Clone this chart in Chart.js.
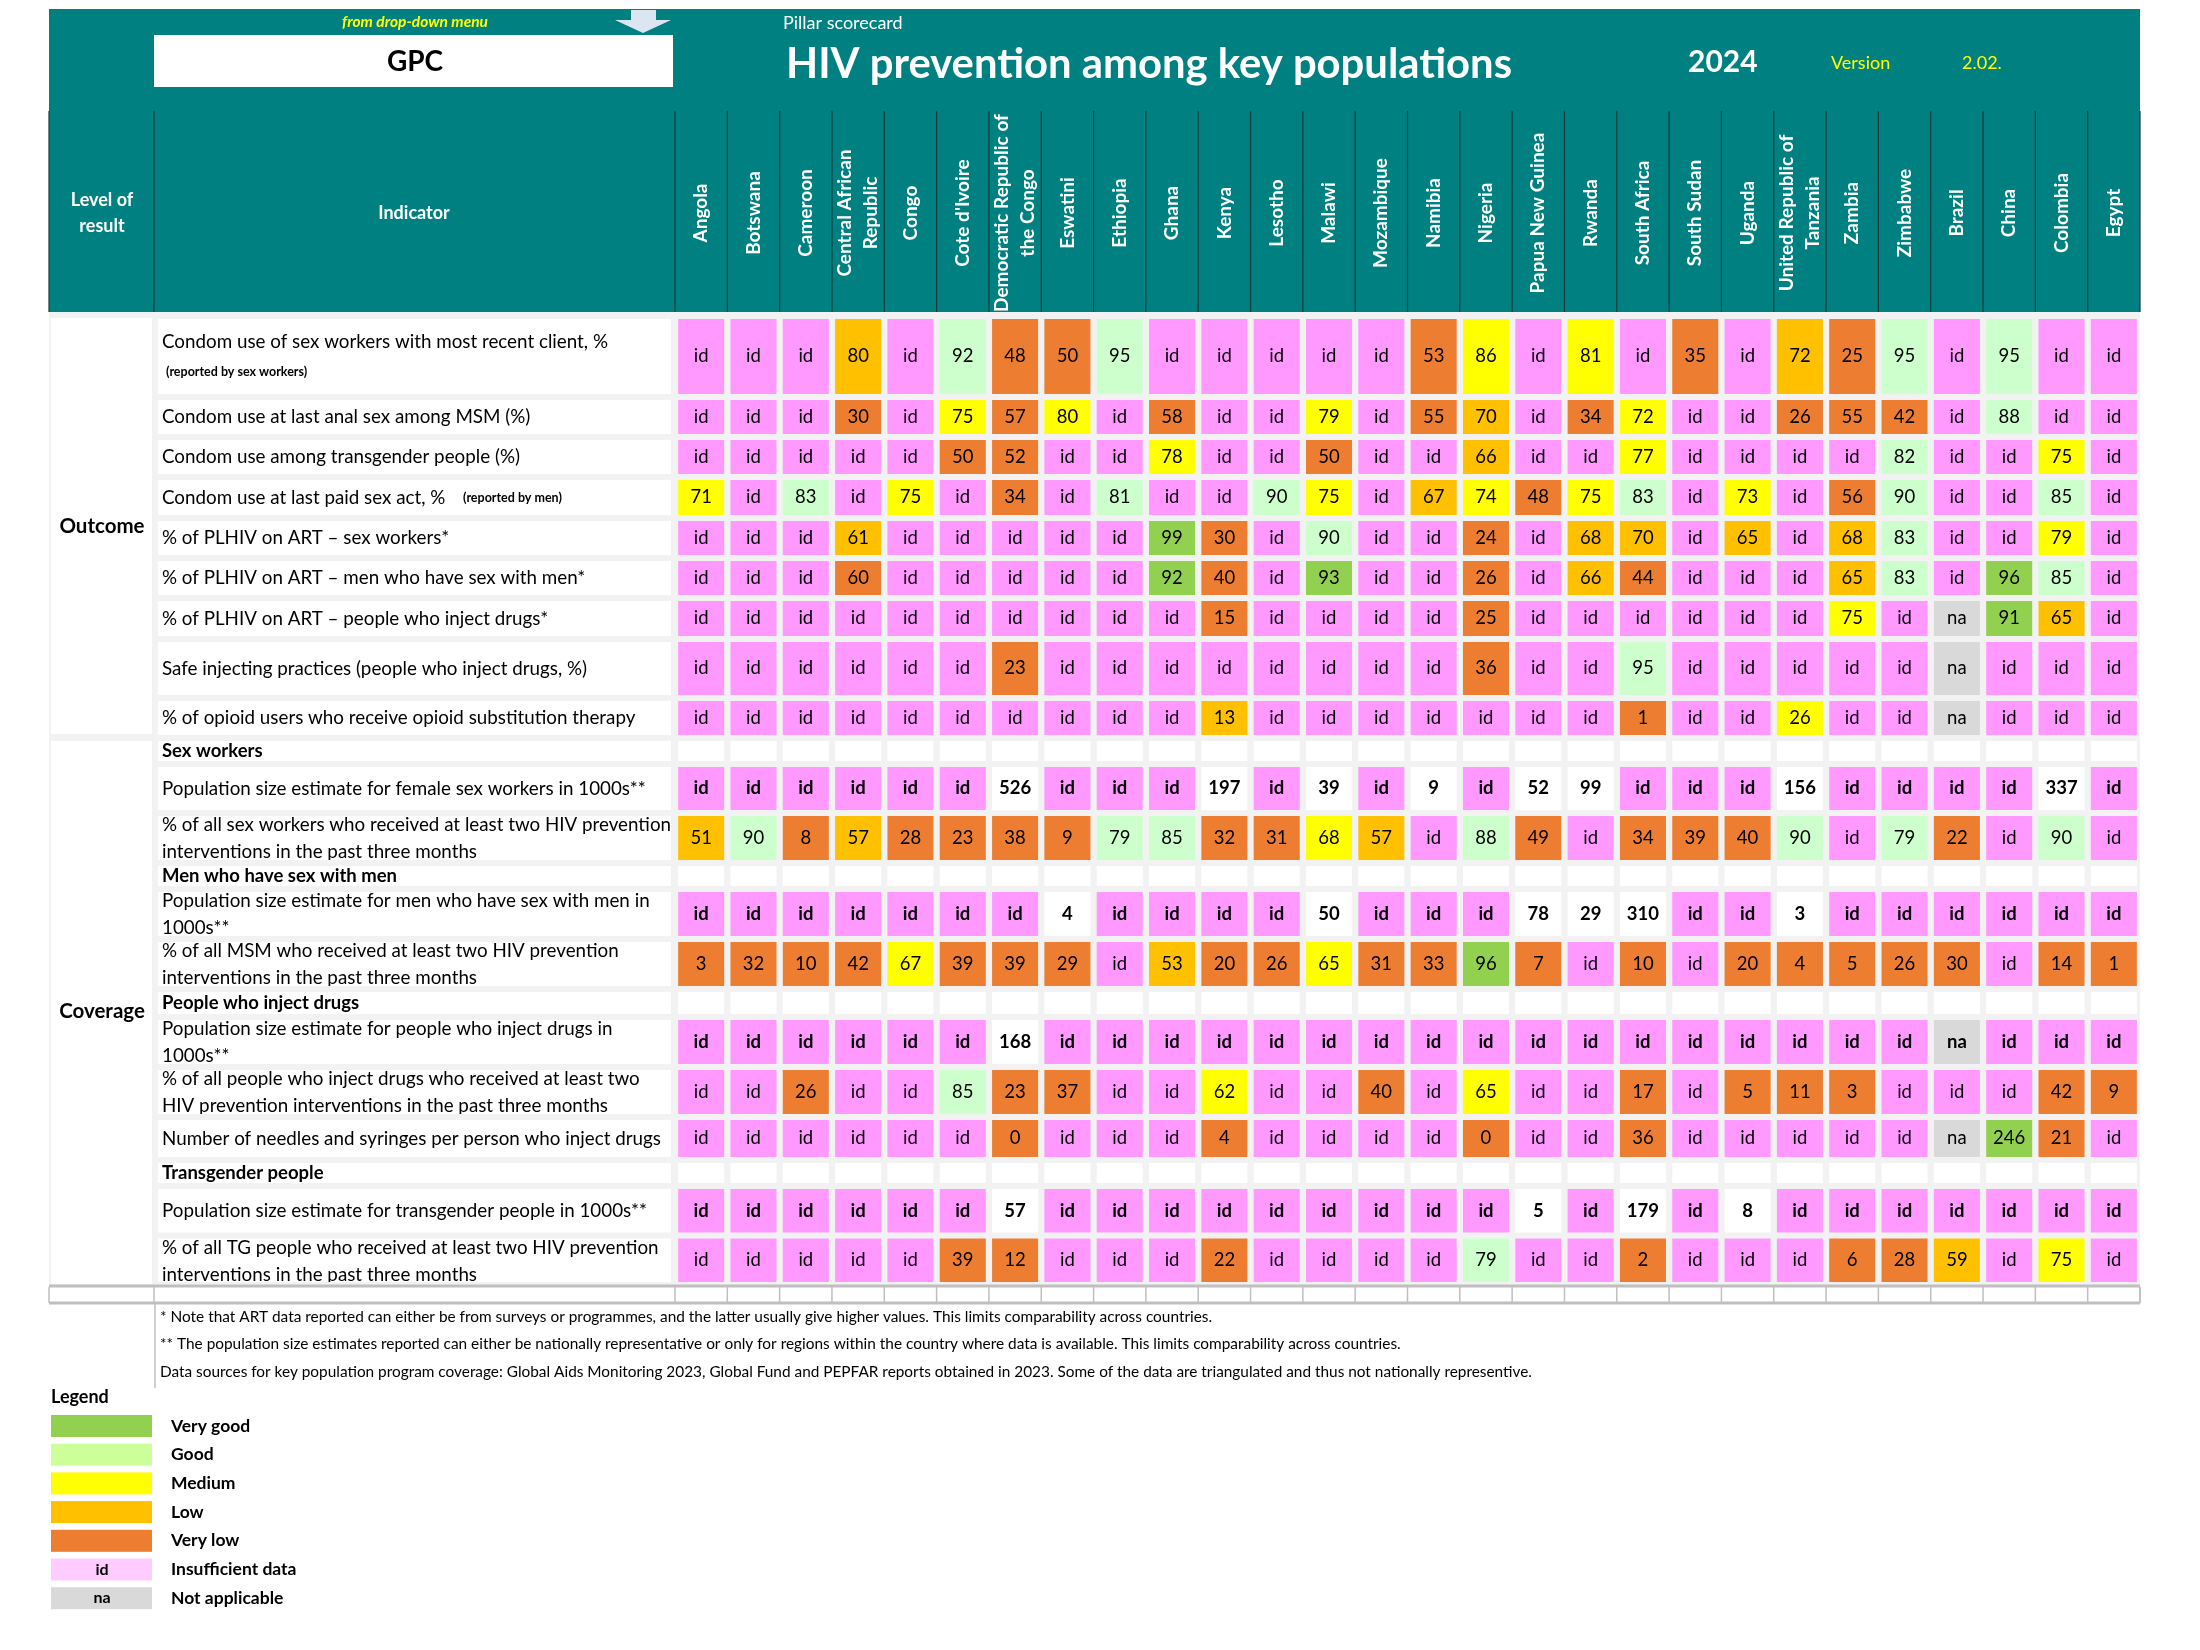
<!DOCTYPE html>
<html>
<head>
<meta charset="utf-8">
<script src="https://cdn.jsdelivr.net/npm/chart.js@4.4.1/dist/chart.umd.min.js"></script>
<style>
  html, body { margin: 0; padding: 0; background: #fff; }
  #wrap { width: 2200px; height: 1650px; }
</style>
</head>
<body>
<div id="wrap"><canvas id="scorecard" width="2200" height="1650"></canvas></div>
<script>
const countries = [
  "Angola", "Botswana", "Cameroon", ["Central African", "Republic"], "Congo", "Cote d'Ivoire",
  ["Democratic Republic of", "the Congo"], "Eswatini", "Ethiopia", "Ghana", "Kenya", "Lesotho",
  "Malawi", "Mozambique", "Namibia", "Nigeria", "Papua New Guinea", "Rwanda", "South Africa",
  "South Sudan", "Uganda", ["United Republic of", "Tanzania"], "Zambia", "Zimbabwe", "Brazil",
  "China", "Colombia", "Egypt",
];

// ratings: VG very good, G good, M medium, L low, VL very low, id insufficient data, na not applicable
const condomSexWorkers = ["id","id","id",80,"id",92,48,50,95,"id","id","id","id","id",53,86,"id",81,"id",35,"id",72,25,95,"id",95,"id","id"];
const condomSexWorkersRating = ["id","id","id","L","id","G","VL","VL","G","id","id","id","id","id","VL","M","id","M","id","VL","id","L","VL","G","id","G","id","id"];

const condomMsm = ["id","id","id",30,"id",75,57,80,"id",58,"id","id",79,"id",55,70,"id",34,72,"id","id",26,55,42,"id",88,"id","id"];
const condomMsmRating = ["id","id","id","VL","id","M","VL","M","id","VL","id","id","M","id","VL","L","id","VL","M","id","id","VL","VL","VL","id","G","id","id"];

const condomTg = ["id","id","id","id","id",50,52,"id","id",78,"id","id",50,"id","id",66,"id","id",77,"id","id","id","id",82,"id","id",75,"id"];
const condomTgRating = ["id","id","id","id","id","VL","VL","id","id","M","id","id","VL","id","id","L","id","id","M","id","id","id","id","G","id","id","M","id"];

const condomPaidSex = [71,"id",83,"id",75,"id",34,"id",81,"id","id",90,75,"id",67,74,48,75,83,"id",73,"id",56,90,"id","id",85,"id"];
const condomPaidSexRating = ["M","id","G","id","M","id","VL","id","G","id","id","G","M","id","L","M","VL","M","G","id","M","id","VL","G","id","id","G","id"];

const artSexWorkers = ["id","id","id",61,"id","id","id","id","id",99,30,"id",90,"id","id",24,"id",68,70,"id",65,"id",68,83,"id","id",79,"id"];
const artSexWorkersRating = ["id","id","id","L","id","id","id","id","id","VG","VL","id","G","id","id","VL","id","L","L","id","L","id","L","G","id","id","M","id"];

const artMsm = ["id","id","id",60,"id","id","id","id","id",92,40,"id",93,"id","id",26,"id",66,44,"id","id","id",65,83,"id",96,85,"id"];
const artMsmRating = ["id","id","id","VL","id","id","id","id","id","VG","VL","id","VG","id","id","VL","id","L","VL","id","id","id","L","G","id","VG","G","id"];

const artPwid = ["id","id","id","id","id","id","id","id","id","id",15,"id","id","id","id",25,"id","id","id","id","id","id",75,"id","na",91,65,"id"];
const artPwidRating = ["id","id","id","id","id","id","id","id","id","id","VL","id","id","id","id","VL","id","id","id","id","id","id","M","id","na","VG","L","id"];

const safeInjecting = ["id","id","id","id","id","id",23,"id","id","id","id","id","id","id","id",36,"id","id",95,"id","id","id","id","id","na","id","id","id"];
const safeInjectingRating = ["id","id","id","id","id","id","VL","id","id","id","id","id","id","id","id","VL","id","id","G","id","id","id","id","id","na","id","id","id"];

const ostCoverage = ["id","id","id","id","id","id","id","id","id","id",13,"id","id","id","id","id","id","id",1,"id","id",26,"id","id","na","id","id","id"];
const ostCoverageRating = ["id","id","id","id","id","id","id","id","id","id","L","id","id","id","id","id","id","id","VL","id","id","M","id","id","na","id","id","id"];

const sizeFsw = ["id","id","id","id","id","id",526,"id","id","id",197,"id",39,"id",9,"id",52,99,"id","id","id",156,"id","id","id","id",337,"id"];
const reachedSw = [51,90,8,57,28,23,38,9,79,85,32,31,68,57,"id",88,49,"id",34,39,40,90,"id",79,22,"id",90,"id"];
const reachedSwRating = ["L","G","VL","L","VL","VL","VL","VL","G","G","VL","VL","M","L","id","G","VL","id","VL","VL","VL","G","id","G","VL","id","G","id"];

const sizeMsm = ["id","id","id","id","id","id","id",4,"id","id","id","id",50,"id","id","id",78,29,310,"id","id",3,"id","id","id","id","id","id"];
const reachedMsm = [3,32,10,42,67,39,39,29,"id",53,20,26,65,31,33,96,7,"id",10,"id",20,4,5,26,30,"id",14,1];
const reachedMsmRating = ["VL","VL","VL","VL","M","VL","VL","VL","id","L","VL","VL","M","VL","VL","VG","VL","id","VL","id","VL","VL","VL","VL","VL","id","VL","VL"];

const sizePwid = ["id","id","id","id","id","id",168,"id","id","id","id","id","id","id","id","id","id","id","id","id","id","id","id","id","na","id","id","id"];
const reachedPwid = ["id","id",26,"id","id",85,23,37,"id","id",62,"id","id",40,"id",65,"id","id",17,"id",5,11,3,"id","id","id",42,9];
const reachedPwidRating = ["id","id","VL","id","id","G","VL","VL","id","id","M","id","id","VL","id","M","id","id","VL","id","VL","VL","VL","id","id","id","VL","VL"];
const needles = ["id","id","id","id","id","id",0,"id","id","id",4,"id","id","id","id",0,"id","id",36,"id","id","id","id","id","na",246,21,"id"];
const needlesRating = ["id","id","id","id","id","id","VL","id","id","id","VL","id","id","id","id","VL","id","id","VL","id","id","id","id","id","na","VG","VL","id"];

const sizeTg = ["id","id","id","id","id","id",57,"id","id","id","id","id","id","id","id","id",5,"id",179,"id",8,"id","id","id","id","id","id","id"];
const reachedTg = ["id","id","id","id","id",39,12,"id","id","id",22,"id","id","id","id",79,"id","id",2,"id","id","id",6,28,59,"id",75,"id"];
const reachedTgRating = ["id","id","id","id","id","VL","VL","id","id","id","VL","id","id","id","id","G","id","id","VL","id","id","id","VL","VL","L","id","M","id"];

const legendItems = [
  ["VG", "Very good"], ["G", "Good"], ["M", "Medium"], ["L", "Low"],
  ["VL", "Very low"], ["id", "Insufficient data"], ["na", "Not applicable"],
];

const footnotes = [
  "* Note that ART data reported can either be from surveys or programmes, and the latter usually give higher values. This limits comparability across countries.",
  "** The population size estimates reported can either be nationally representative or only for regions within the country where data is available. This limits comparability across countries.",
  "Data sources for key population program coverage: Global Aids Monitoring 2023, Global Fund and PEPFAR reports obtained in 2023. Some of the data are triangulated and thus not nationally representive.",
];

// ---- styling / layout ----
const TEAL = "#008080";
const FONT = "Lato, 'Open Sans', sans-serif";
const cellColors = { VG: "#92d050", G: "#ccffcc", M: "#ffff00", L: "#ffc000", VL: "#ed7d31", id: "#ff99ff", na: "#d9d9d9", W: "#ffffff", blank: "#ffffff" };
const legendColors = { VG: "#92d050", G: "#ccff99", M: "#ffff00", L: "#ffc000", VL: "#ed7d31", id: "#ffccff", na: "#d9d9d9" };

function sizeRating(values) {
  return values.map((v) => (v === "id" || v === "na" ? v : "W"));
}

// h = row slot height in table units (1 unit = 1px at this size)
const rows = [
  { label: ["Condom use of sex workers with most recent client, %"], note: "(reported by sex workers)", values: condomSexWorkers, ratings: condomSexWorkersRating, h: 81 },
  { label: ["Condom use at last anal sex among MSM (%)"], values: condomMsm, ratings: condomMsmRating, h: 40 },
  { label: ["Condom use among transgender people (%)"], values: condomTg, ratings: condomTgRating, h: 40 },
  { label: ["Condom use at last paid sex act, %"], inlineNote: "(reported by men)", values: condomPaidSex, ratings: condomPaidSexRating, h: 41 },
  { label: ["% of PLHIV on ART \u2013 sex workers*"], values: artSexWorkers, ratings: artSexWorkersRating, h: 40 },
  { label: ["% of PLHIV on ART \u2013 men who have sex with men*"], values: artMsm, ratings: artMsmRating, h: 40 },
  { label: ["% of PLHIV on ART \u2013 people who inject drugs*"], values: artPwid, ratings: artPwidRating, h: 41 },
  { label: ["Safe injecting practices (people who inject drugs, %)"], values: safeInjecting, ratings: safeInjectingRating, h: 59 },
  { label: ["% of opioid users who receive opioid substitution therapy"], values: ostCoverage, ratings: ostCoverageRating, h: 40 },
  { group: "Sex workers", h: 26 },
  { label: ["Population size estimate for female sex workers in 1000s**"], values: sizeFsw, ratings: sizeRating(sizeFsw), bold: true, h: 49 },
  { label: ["% of all sex workers who received at least two HIV prevention", "interventions in the past three months"], values: reachedSw, ratings: reachedSwRating, h: 50 },
  { group: "Men who have sex with men", h: 26 },
  { label: ["Population size estimate for men who have sex with men in", "1000s**"], values: sizeMsm, ratings: sizeRating(sizeMsm), bold: true, h: 50 },
  { label: ["% of all MSM who received at least two HIV prevention", "interventions in the past three months"], values: reachedMsm, ratings: reachedMsmRating, h: 50 },
  { group: "People who inject drugs", h: 28 },
  { label: ["Population size estimate for people who inject drugs in", "1000s**"], values: sizePwid, ratings: sizeRating(sizePwid), bold: true, h: 50 },
  { label: ["% of all people who inject drugs who received at least two", "HIV prevention interventions in the past three months"], values: reachedPwid, ratings: reachedPwidRating, h: 50 },
  { label: ["Number of needles and syringes per person who inject drugs"], values: needles, ratings: needlesRating, h: 43 },
  { group: "Transgender people", h: 26 },
  { label: ["Population size estimate for transgender people in 1000s**"], values: sizeTg, ratings: sizeRating(sizeTg), bold: true, h: 49.5 },
  { label: ["% of all TG people who received at least two HIV prevention", "interventions in the past three months"], values: reachedTg, ratings: reachedTgRating, h: 49.5 },
];
const OUTCOME_ROWS = 9;

let acc = 0;
rows.forEach((r) => {
  r.start = acc;
  acc += r.h;
  r.end = acc;
});
const TOTAL = acc;
const INSET = 3;

const datasets = rows.map((r) => ({
  label: r.group || r.label.join(" "),
  data: countries.map(() => [r.start + INSET, r.end - INSET]),
  backgroundColor: r.group ? cellColors.blank : r.ratings.map((k) => cellColors[k]),
  borderWidth: 0,
  grouped: false,
  barPercentage: 0.88,
  categoryPercentage: 1,
}));

function text(ctx, s, x, y, font, color, align = "left", maxWidth) {
  ctx.font = font;
  ctx.fillStyle = color;
  ctx.textAlign = align;
  ctx.textBaseline = "middle";
  if (maxWidth) ctx.fillText(s, x, y, maxWidth);
  else ctx.fillText(s, x, y);
}

const frame = {
  id: "scorecardFrame",
  beforeDraw(chart) {
    const { ctx, chartArea: a, scales } = chart;
    const x = scales.x;
    const y = scales.y;
    const LEFT = 49;
    const LEVEL_RIGHT = 154;
    const half = (x.getPixelForValue(1) - x.getPixelForValue(0)) / 2;
    const edges = [LEFT, LEVEL_RIGHT, a.left];
    countries.forEach((c, i) => edges.push(x.getPixelForValue(i) + half));

    ctx.save();
    ctx.fillStyle = "#fff";
    ctx.fillRect(0, 0, chart.width, chart.height);

    // teal banner + column header
    ctx.fillStyle = TEAL;
    ctx.fillRect(LEFT, 9, a.right - LEFT, 303);
    ctx.strokeStyle = "#173c3c";
    ctx.lineWidth = 1.2;
    edges.forEach((ex) => {
      ctx.beginPath();
      ctx.moveTo(ex, 111);
      ctx.lineTo(ex, 312);
      ctx.stroke();
    });

    text(ctx, "from drop-down menu", 415, 22, `italic bold 15.5px ${FONT}`, "#ffff00", "center");
    ctx.fillStyle = "#dce6f2";
    ctx.fillRect(631, 10, 25, 11);
    ctx.beginPath();
    ctx.moveTo(615, 20);
    ctx.lineTo(671, 20);
    ctx.lineTo(643, 33);
    ctx.closePath();
    ctx.fill();
    ctx.fillStyle = "#fff";
    ctx.fillRect(154, 35, 519, 52);
    text(ctx, "GPC", 415, 62, `bold 28px ${FONT}`, "#000", "center");
    text(ctx, "Pillar scorecard", 783, 23, `18px ${FONT}`, "#fff");
    text(ctx, "HIV prevention among key populations", 786, 64, `bold 42px ${FONT}`, "#fff", "left", 726);
    text(ctx, "2024", 1688, 62, `bold 30px ${FONT}`, "#fff", "left", 70);
    text(ctx, "Version", 1831, 63, `18px ${FONT}`, "#ffff00");
    text(ctx, "2.02.", 1962, 63, `18px ${FONT}`, "#ffff00");

    text(ctx, "Level of", 102, 200, `bold 18px ${FONT}`, "#fff", "center");
    text(ctx, "result", 102, 226, `bold 18px ${FONT}`, "#fff", "center");
    text(ctx, "Indicator", 414, 213, `bold 18px ${FONT}`, "#fff", "center");

    countries.forEach((c, i) => {
      const cx = x.getPixelForValue(i);
      const lines = Array.isArray(c) ? c : [c];
      ctx.save();
      ctx.beginPath();
      ctx.rect(cx - half, 111, half * 2, 201);
      ctx.clip();
      ctx.translate(cx, 213);
      ctx.rotate(-Math.PI / 2);
      lines.forEach((ln, k) => {
        text(ctx, ln, 0, (k - (lines.length - 1) / 2) * 26, `bold 19px ${FONT}`, "#fff", "center");
      });
      ctx.restore();
    });

    // table body
    ctx.fillStyle = "#f2f2f2";
    ctx.fillRect(LEFT, 312, a.right - LEFT, 976);
    ctx.fillStyle = "#fff";
    const outTop = y.getPixelForValue(rows[0].start + 2);
    const outBot = y.getPixelForValue(rows[OUTCOME_ROWS - 1].end - 4);
    const covTop = y.getPixelForValue(rows[OUTCOME_ROWS].start + 3);
    const covBot = y.getPixelForValue(rows[rows.length - 1].end - 1);
    ctx.fillRect(51, outTop, 101, outBot - outTop);
    ctx.fillRect(51, covTop, 101, covBot - covTop);
    text(ctx, "Outcome", 102, 526, `bold 20.5px ${FONT}`, "#000", "center");
    text(ctx, "Coverage", 102, 1011, `bold 20.5px ${FONT}`, "#000", "center");

    const labelFont = `18.8px ${FONT}`;
    rows.forEach((r) => {
      const top = y.getPixelForValue(r.start + INSET);
      const bot = y.getPixelForValue(r.end - INSET);
      ctx.fillStyle = "#fff";
      ctx.fillRect(158, top, 513, bot - top);
      ctx.save();
      ctx.beginPath();
      ctx.rect(158, top, 513, bot - top);
      ctx.clip();
      if (r.group) {
        text(ctx, r.group, 162, (top + bot) / 2, `bold 18.5px ${FONT}`, "#000");
      } else if (r.note) {
        text(ctx, r.label[0], 162, top + 23, labelFont, "#000", "left", 508);
        text(ctx, r.note, 166, top + 53, `bold 12.5px ${FONT}`, "#000");
      } else if (r.label.length > 1) {
        r.label.forEach((ln, k) => text(ctx, ln, 162, top + 9 + k * 27, labelFont, "#000", "left", 509));
      } else {
        text(ctx, r.label[0], 162, (top + bot) / 2, labelFont, "#000", "left", 509);
        if (r.inlineNote) text(ctx, r.inlineNote, 463, (top + bot) / 2, `bold 12.5px ${FONT}`, "#000");
      }
      ctx.restore();
    });

    // empty closing row of the table
    const endY = covBot + 3;
    ctx.fillStyle = "#fff";
    ctx.fillRect(LEFT, endY, a.right - LEFT, 16);
    ctx.strokeStyle = "#bfbfbf";
    ctx.lineWidth = 3;
    ctx.beginPath();
    ctx.moveTo(LEFT, endY - 1);
    ctx.lineTo(a.right, endY - 1);
    ctx.moveTo(LEFT, endY + 16);
    ctx.lineTo(a.right, endY + 16);
    ctx.stroke();
    ctx.lineWidth = 1.5;
    edges.concat([a.right]).forEach((ex) => {
      ctx.beginPath();
      ctx.moveTo(ex, endY);
      ctx.lineTo(ex, endY + 16);
      ctx.stroke();
    });
    ctx.beginPath();
    ctx.moveTo(155, endY + 16);
    ctx.lineTo(155, 1388);
    ctx.stroke();

    // notes and legend
    const noteWidths = [1060, 1252, 1372];
    footnotes.forEach((f, k) => text(ctx, f, 160, 1317 + k * 27.5, `15.4px ${FONT}`, "#000", "left", noteWidths[k]));
    text(ctx, "Legend", 51, 1397, `bold 18px ${FONT}`, "#000");
    legendItems.forEach(([key, name], k) => {
      const top = 1415 + k * 28.7;
      ctx.fillStyle = legendColors[key];
      ctx.fillRect(51, top, 101, 22);
      if (key === "id" || key === "na") text(ctx, key, 102, top + 11, `bold 16px ${FONT}`, "#000", "center");
      text(ctx, name, 171, top + 11, `bold 17.5px ${FONT}`, "#000");
    });
    ctx.restore();
  },
  afterDatasetsDraw(chart) {
    const { ctx } = chart;
    ctx.save();
    rows.forEach((r, d) => {
      if (r.group) return;
      chart.getDatasetMeta(d).data.forEach((bar, i) => {
        const v = r.values[i];
        text(ctx, String(v), bar.x, (bar.y + bar.base) / 2, `${r.bold ? "bold " : ""}18.5px ${FONT}`, "#000", "center");
      });
    });
    ctx.restore();
  },
};

new Chart(document.getElementById("scorecard"), {
  type: "bar",
  data: { labels: countries, datasets },
  options: {
    responsive: false,
    devicePixelRatio: 1,
    animation: false,
    events: [],
    layout: { padding: { left: 675, right: 60, top: 316, bottom: 1650 - 316 - TOTAL } },
    plugins: { legend: { display: false }, tooltip: { enabled: false } },
    scales: {
      x: { type: "category", display: false, grid: { display: false } },
      y: { type: "linear", min: 0, max: TOTAL, reverse: true, display: false, grid: { display: false } },
    },
  },
  plugins: [frame],
});
</script>
</body>
</html>
